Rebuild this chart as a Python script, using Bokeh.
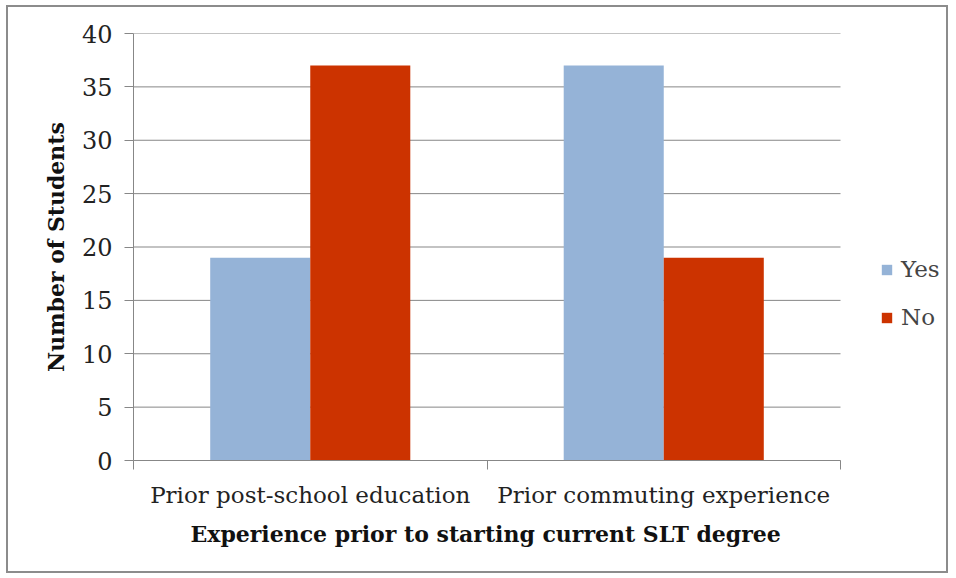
from bokeh.plotting import figure
from bokeh.models import FixedTicker, Range1d, Legend, LegendItem, ColumnDataSource, Title
from bokeh.transform import dodge
from bokeh.embed import file_html
from bokeh.resources import INLINE

categories = ["Prior post-school education", "Prior commuting experience"]
yes_values = [19, 37]
no_values = [37, 19]
y_ticks = [0, 5, 10, 15, 20, 25, 30, 35, 40]
x_title = "Experience prior to starting current SLT degree"
y_title = "Number of Students"

n = len(categories)
x_pos = [i + 0.5 for i in range(n)]
src = ColumnDataSource(dict(x=x_pos, yes=yes_values, no=no_values))

FONT = "DejaVu Serif"
GRID = "#878787"

# frame extends right of the category area to hold the legend
x_end = n * (946 - 133) / 707

p = figure(width=942, height=568, output_backend="svg", toolbar_location=None,
           x_range=Range1d(0, x_end), y_range=Range1d(0, 40),
           min_border_left=125, min_border_top=26, min_border_right=4, min_border_bottom=115)
p.styles = {"border": "2px solid #8c8c8c", "box-sizing": "border-box",
            "margin-left": "6px", "margin-top": "5px"}
p.outline_line_color = None
p.xgrid.grid_line_color = None
p.ygrid.grid_line_color = None

# horizontal gridlines limited to the category area
p.segment(x0=[0] * len(y_ticks), x1=[n] * len(y_ticks), y0=y_ticks, y1=y_ticks,
          line_color=GRID, line_width=1)

bw = 0.283
r_yes = p.vbar(x=dodge("x", -bw / 2, range=p.x_range), top="yes", width=bw, source=src,
               fill_color="#95B3D7", line_color=None)
r_no = p.vbar(x=dodge("x", bw / 2, range=p.x_range), top="no", width=bw, source=src,
              fill_color="#CC3300", line_color=None)

# axes
p.xaxis.bounds = (0, n)
p.xaxis.ticker = FixedTicker(ticks=x_pos, minor_ticks=list(range(n + 1)))
p.xaxis.major_label_overrides = {x: c for x, c in zip(x_pos, categories)}
p.xaxis.major_tick_out = 0
p.xaxis.major_tick_in = 0
p.xaxis.minor_tick_out = 9
p.xaxis.minor_tick_in = 0
p.xaxis.minor_tick_line_color = GRID
p.xaxis.axis_line_color = GRID
p.xaxis.major_label_text_font = FONT
p.xaxis.major_label_text_font_size = "23px"
p.xaxis.major_label_text_color = "#222222"
p.xaxis.major_label_standoff = 12

p.add_layout(Title(text=x_title, align="left", offset=57, text_font=FONT,
                   text_font_style="bold", text_font_size="22px", text_color="#111111",
                   standoff=16), "below")

p.yaxis.ticker = FixedTicker(ticks=y_ticks, minor_ticks=[])
p.yaxis.major_tick_out = 9
p.yaxis.major_tick_in = 0
p.yaxis.major_tick_line_color = GRID
p.yaxis.axis_line_color = GRID
p.yaxis.major_label_text_font = FONT
p.yaxis.major_label_text_font_size = "24px"
p.yaxis.major_label_text_color = "#222222"
p.yaxis.major_label_standoff = 12
p.yaxis.axis_label = y_title
p.yaxis.axis_label_text_font = FONT
p.yaxis.axis_label_text_font_style = "bold"
p.yaxis.axis_label_text_font_size = "22px"
p.yaxis.axis_label_text_color = "#111111"
p.yaxis.axis_label_standoff = 10

legend = Legend(items=[LegendItem(label="Yes", renderers=[r_yes]),
                       LegendItem(label="No", renderers=[r_no])],
                location=(747, 130), border_line_color=None, background_fill_alpha=0,
                glyph_width=13, glyph_height=13, label_text_font=FONT,
                label_text_font_size="23px", label_height=24, spacing=22,
                padding=0, margin=0, label_standoff=8)
p.add_layout(legend, "center")

open("out.html", "w").write(file_html(p, INLINE))
